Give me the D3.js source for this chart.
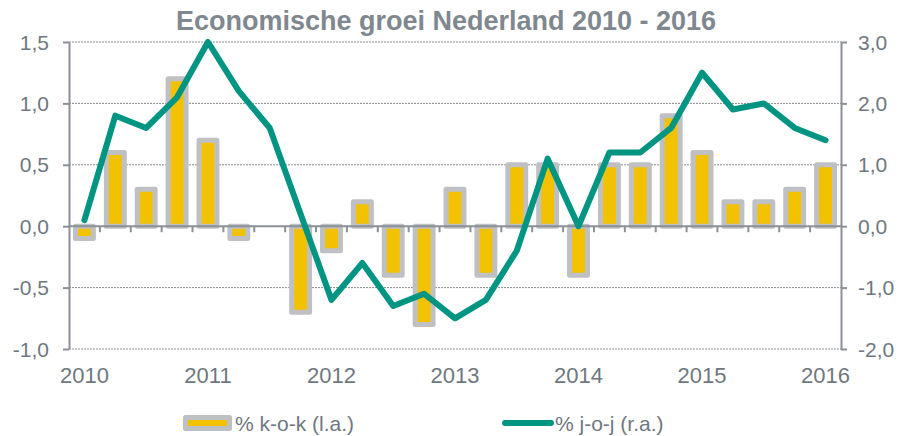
<!DOCTYPE html>
<html>
<head>
<meta charset="utf-8">
<style>
  body { margin: 0; background: #fff; font-family: Arial, "Liberation Sans", sans-serif; }
</style>
</head>
<body>
<div id="chart"></div>
<script src="https://d3js.org/d3.v7.min.js"></script>
<script>
  // quarters 2010 Q1 - 2016 Q1
  const quarters = [
    "2010K1", "2010K2", "2010K3", "2010K4",
    "2011K1", "2011K2", "2011K3", "2011K4",
    "2012K1", "2012K2", "2012K3", "2012K4",
    "2013K1", "2013K2", "2013K3", "2013K4",
    "2014K1", "2014K2", "2014K3", "2014K4",
    "2015K1", "2015K2", "2015K3", "2015K4",
    "2016K1"
  ];
  // % k-o-k (left axis)
  const kok = [-0.1, 0.6, 0.3, 1.2, 0.7, -0.1, 0.0, -0.7, -0.2, 0.2, -0.4, -0.8,
               0.3, -0.4, 0.5, 0.5, -0.4, 0.5, 0.5, 0.9, 0.6, 0.2, 0.2, 0.3, 0.5];
  // % j-o-j (right axis)
  const joj = [0.1, 1.8, 1.6, 2.1, 3.0, 2.2, 1.6, 0.2, -1.2, -0.6, -1.3, -1.1,
               -1.5, -1.2, -0.4, 1.1, 0.0, 1.2, 1.2, 1.6, 2.5, 1.9, 2.0, 1.6, 1.4];
  const yearTicks = ["2010K1", "2011K1", "2012K1", "2013K1", "2014K1", "2015K1", "2016K1"];
  const leftTicks = [-1.0, -0.5, 0.0, 0.5, 1.0, 1.5];
  const rightTicks = [-2.0, -1.0, 0.0, 1.0, 2.0, 3.0];

  const W = 902, H = 436;
  const margin = { top: 42, right: 61, bottom: 87, left: 69 },
        width = W - margin.left - margin.right,
        height = H - margin.top - margin.bottom;

  const axisGrey = "#8a9199", textGrey = "#6f7880";
  const font = "Arial, 'Liberation Sans', sans-serif";
  const fmt = d3.format(".1f");
  const comma = d => fmt(d).replace(".", ",").replace("\u2212", "-");

  const svg = d3.select("#chart").append("svg")
    .attr("width", W).attr("height", H);

  svg.append("text")
    .attr("x", 446).attr("y", 30)
    .attr("text-anchor", "middle")
    .attr("font-size", 27).attr("font-weight", "bold")
    .attr("fill", "#7f878f")
    .text("Economische groei Nederland 2010 - 2016");

  const g = svg.append("g").attr("transform", `translate(${margin.left},${margin.top})`);

  const x = d3.scaleBand().domain(quarters).range([0, width]).paddingInner(0.42).paddingOuter(0.21);
  const yL = d3.scaleLinear().domain([-1, 1.5]).range([height, 0]);
  const yR = d3.scaleLinear().domain([-2, 3]).range([height, 0]);

  // dotted gridlines
  g.append("g").selectAll("line")
    .data(leftTicks.filter(d => d !== 0))
    .join("line")
    .attr("x1", 0).attr("x2", width)
    .attr("y1", d => yL(d)).attr("y2", d => yL(d))
    .attr("stroke", "#8c8c8c").attr("stroke-width", 1)
    .attr("stroke-dasharray", "2,1");

  // left axis
  const axL = g.append("g").call(d3.axisLeft(yL).tickValues(leftTicks).tickFormat(comma).tickSize(6).tickSizeOuter(0));
  axL.select(".domain").attr("stroke", axisGrey).attr("stroke-width", 2);
  axL.selectAll(".tick line").attr("stroke", axisGrey).attr("stroke-width", 2);
  axL.selectAll("text").attr("fill", textGrey).attr("font-size", 21)
    .attr("font-family", font).attr("x", -20).attr("dy", "0.34em");

  // right axis
  const axR = g.append("g").attr("transform", `translate(${width},0)`)
    .call(d3.axisRight(yR).tickValues(rightTicks).tickFormat(comma).tickSize(6).tickSizeOuter(0));
  axR.select(".domain").attr("stroke", axisGrey).attr("stroke-width", 2);
  axR.selectAll(".tick line").attr("stroke", axisGrey).attr("stroke-width", 2);
  axR.selectAll("text").attr("fill", textGrey).attr("font-size", 21)
    .attr("font-family", font).attr("x", 17).attr("dy", "0.34em");

  // bars
  g.append("g").selectAll("rect")
    .data(quarters.map((q, i) => ({ q, v: kok[i] })).filter(d => d.v !== 0))
    .join("rect")
    .attr("x", d => x(d.q))
    .attr("width", x.bandwidth())
    .attr("y", d => yL(Math.max(0, d.v)))
    .attr("height", d => Math.abs(yL(d.v) - yL(0)))
    .attr("fill", "#f2c200")
    .attr("stroke", "#bfc0c3").attr("stroke-width", 5)
    .attr("stroke-linejoin", "round");

  // zero axis with quarter boundary ticks
  const zero = g.append("g").attr("transform", `translate(0,${yL(0)})`);
  zero.append("line").attr("x1", 0).attr("x2", width)
    .attr("stroke", axisGrey).attr("stroke-width", 2);
  zero.selectAll(".qt")
    .data(quarters.slice(1))
    .join("line").attr("class", "qt")
    .attr("x1", d => x(d) - x.step() * x.paddingInner() / 2)
    .attr("x2", d => x(d) - x.step() * x.paddingInner() / 2)
    .attr("y1", 0).attr("y2", 6)
    .attr("stroke", axisGrey).attr("stroke-width", 2);

  // year labels
  const axB = g.append("g").attr("transform", `translate(0,${height})`)
    .call(d3.axisBottom(x).tickValues(yearTicks).tickFormat(d => d.slice(0, 4)).tickSize(0));
  axB.select(".domain").remove();
  axB.selectAll("text").attr("fill", textGrey).attr("font-size", 22)
    .attr("font-family", font).attr("y", 34).attr("dy", 0);

  // line
  g.append("path")
    .datum(quarters.map((q, i) => ({ q, v: joj[i] })))
    .attr("fill", "none")
    .attr("stroke", "#009482").attr("stroke-width", 6)
    .attr("stroke-linejoin", "round").attr("stroke-linecap", "round")
    .attr("d", d3.line().x(d => x(d.q) + x.bandwidth() / 2).y(d => yR(d.v)));

  // legend
  const lg = svg.append("g");
  lg.append("rect").attr("x", 185.5).attr("y", 417.5).attr("width", 44).attr("height", 11)
    .attr("fill", "#f2c200").attr("stroke", "#bfc0c3").attr("stroke-width", 5).attr("stroke-linejoin", "round");
  lg.append("text").attr("x", 235).attr("y", 431).attr("font-size", 21).attr("fill", textGrey)
    .text("% k-o-k (l.a.)");
  lg.append("line").attr("x1", 505).attr("x2", 551).attr("y1", 423).attr("y2", 423)
    .attr("stroke", "#009482").attr("stroke-width", 6).attr("stroke-linecap", "round");
  lg.append("text").attr("x", 555).attr("y", 431).attr("font-size", 21).attr("fill", textGrey)
    .text("% j-o-j (r.a.)");
</script>
</body>
</html>
